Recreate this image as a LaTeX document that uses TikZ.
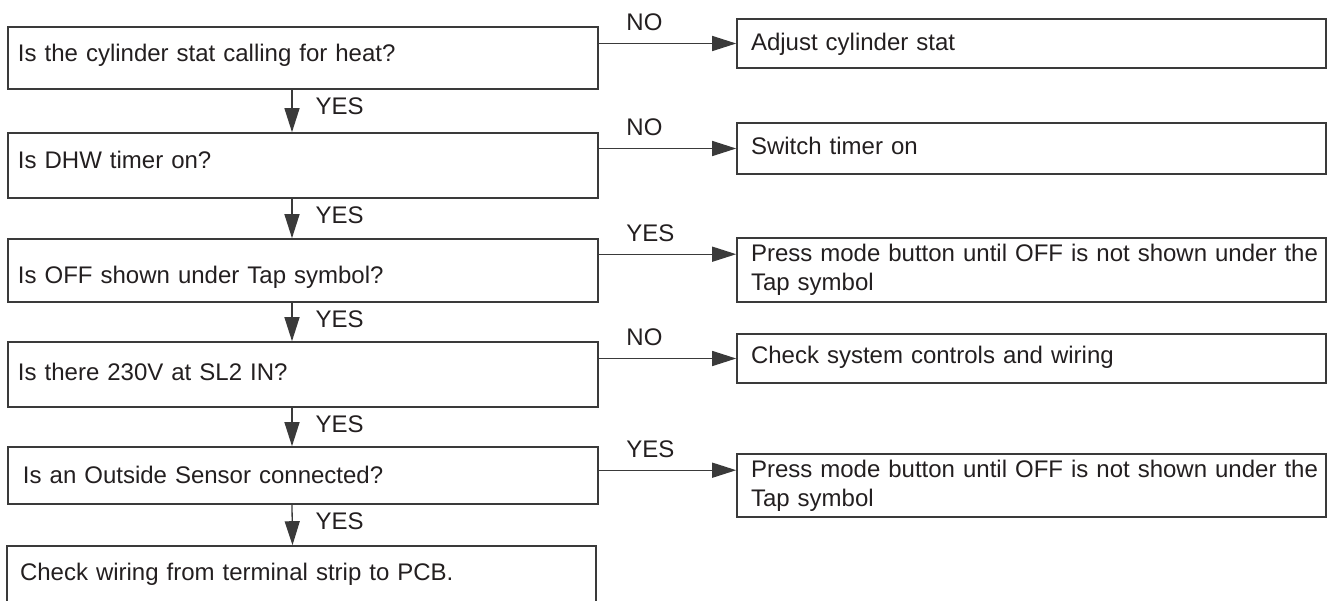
\documentclass[tikz,border=0pt]{standalone}
\usepackage{fontspec}
\setmainfont{Liberation Sans}
\usetikzlibrary{arrows.meta}
\definecolor{chartline}{HTML}{3A3A3A}
\definecolor{charttext}{HTML}{231F20}
\tikzset{
    questionbox/.style={
        draw=chartline,
        rectangle,
        line width=0.8pt,
        minimum width=295pt,
        text width=285pt,
        inner xsep=5pt,
        inner ysep=0pt,
        align=left,
        text=charttext,
        font=\fontsize{12}{14.5}\selectfont
    },
    actionbox/.style={
        questionbox,
        minimum width=294.5pt,
        text width=280.5pt,
        inner xsep=7pt
    },
    flowarrow/.style={
        -{Triangle[length=12pt,width=7.5pt]},
        draw=chartline,
        line width=0.65pt
    },
    branchlabel/.style={
        inner sep=0pt,
        text=charttext,
        font=\fontsize{12}{14.5}\selectfont
    }
}

\begin{document}
\begin{tikzpicture}[x=0.5pt,y=-0.5pt]
    \useasboundingbox (0,0) rectangle (1328,600);

    % questions down the left side
    \node[questionbox,minimum height=31pt,text height=8.5pt,text depth=5.5pt] (cylstat) at (303,58)
        {Is the cylinder stat calling for heat?};
    \node[questionbox,minimum height=32.5pt,text height=8.25pt,text depth=5.75pt] (dhwtimer) at (303,165.5)
        {Is DHW timer on?};
    \node[questionbox,minimum height=31.5pt,text height=13.25pt,text depth=0.75pt] (tapoff) at (303,270.5)
        {Is OFF shown under Tap symbol?};
    \node[questionbox,minimum height=32.5pt,text height=9.75pt,text depth=4.25pt] (slvolt) at (303,374.5)
        {Is there 230V at SL2 IN?};
    \node[questionbox,minimum height=28.5pt,text height=10.75pt,text depth=3.25pt,
          inner xsep=7.5pt,text width=280pt] (outsensor) at (303,475.5)
        {Is an Outside Sensor connected?};
    \node[questionbox,minimum height=33pt,text height=7.5pt,text depth=6.5pt,
          minimum width=294.5pt,inner xsep=6.5pt,text width=281.5pt] (wiring) at (301.5,579)
        {Check wiring from terminal strip to PCB.};

    % actions on the right
    \node[actionbox,minimum height=24.5pt,text height=10.25pt,text depth=3.75pt] (adjuststat) at (1031.5,43.5)
        {Adjust cylinder stat};
    \node[actionbox,minimum height=25.5pt,text height=9.75pt,text depth=4.25pt] (timeron) at (1031.5,148.5)
        {Switch timer on};
    \node[actionbox,minimum height=32pt,text height=9.5pt,text depth=18.5pt] (pressmode) at (1031.5,270)
        {\mbox{Press mode button until OFF is not shown under the}\\Tap symbol};
    \node[actionbox,minimum height=24.5pt,text height=9.25pt,text depth=4.75pt] (sysctrl) at (1031.5,358.5)
        {Check system controls and wiring};
    \node[actionbox,minimum height=31.5pt,text height=9.75pt,text depth=18.25pt] (pressmodeb) at (1031.5,485.5)
        {\mbox{Press mode button until OFF is not shown under the}\\Tap symbol};

    \coordinate (pressmodein) at ([yshift=-8.5pt]pressmode.north west);
    \coordinate (pressmodebin) at ([yshift=-8.5pt]pressmodeb.north west);

    % YES path downwards
    \draw[flowarrow] ([xshift=-5.5pt]cylstat.south) --
        node[branchlabel,pos=0,anchor=base west,xshift=11.5pt,yshift=-12.25pt] {YES}
        ([xshift=-5.5pt]dhwtimer.north);
    \draw[flowarrow] ([xshift=-5.5pt]dhwtimer.south) --
        node[branchlabel,pos=0,anchor=base west,xshift=11.5pt,yshift=-12.25pt] {YES}
        ([xshift=-5.5pt]tapoff.north);
    \draw[flowarrow] ([xshift=-5.5pt]tapoff.south) --
        node[branchlabel,pos=0,anchor=base west,xshift=11.5pt,yshift=-12.25pt] {YES}
        ([xshift=-5.5pt]slvolt.north);
    \draw[flowarrow] ([xshift=-5.5pt]slvolt.south) --
        node[branchlabel,pos=0,anchor=base west,xshift=11.5pt,yshift=-12.25pt] {YES}
        ([xshift=-5.5pt]outsensor.north);
    \draw[flowarrow] ([xshift=-5.5pt]outsensor.south) --
        node[branchlabel,pos=0,anchor=base west,xshift=11.5pt,yshift=-12.25pt] {YES}
        ([xshift=-4.5pt]wiring.north);

    % branches to the right
    \draw[flowarrow] (cylstat.east |- adjuststat.west) --
        node[branchlabel,pos=0,anchor=base west,xshift=13.5pt,yshift=6.5pt] {NO}
        (adjuststat.west);
    \draw[flowarrow] (dhwtimer.east |- timeron.west) --
        node[branchlabel,pos=0,anchor=base west,xshift=13.5pt,yshift=6.5pt] {NO}
        (timeron.west);
    \draw[flowarrow] (tapoff.east |- pressmodein) --
        node[branchlabel,pos=0,anchor=base west,xshift=13.5pt,yshift=6.5pt] {YES}
        (pressmodein);
    \draw[flowarrow] (slvolt.east |- sysctrl.west) --
        node[branchlabel,pos=0,anchor=base west,xshift=13.5pt,yshift=6.5pt] {NO}
        (sysctrl.west);
    \draw[flowarrow] (outsensor.east |- pressmodebin) --
        node[branchlabel,pos=0,anchor=base west,xshift=13.5pt,yshift=6.5pt] {YES}
        (pressmodebin);
\end{tikzpicture}
\end{document}
